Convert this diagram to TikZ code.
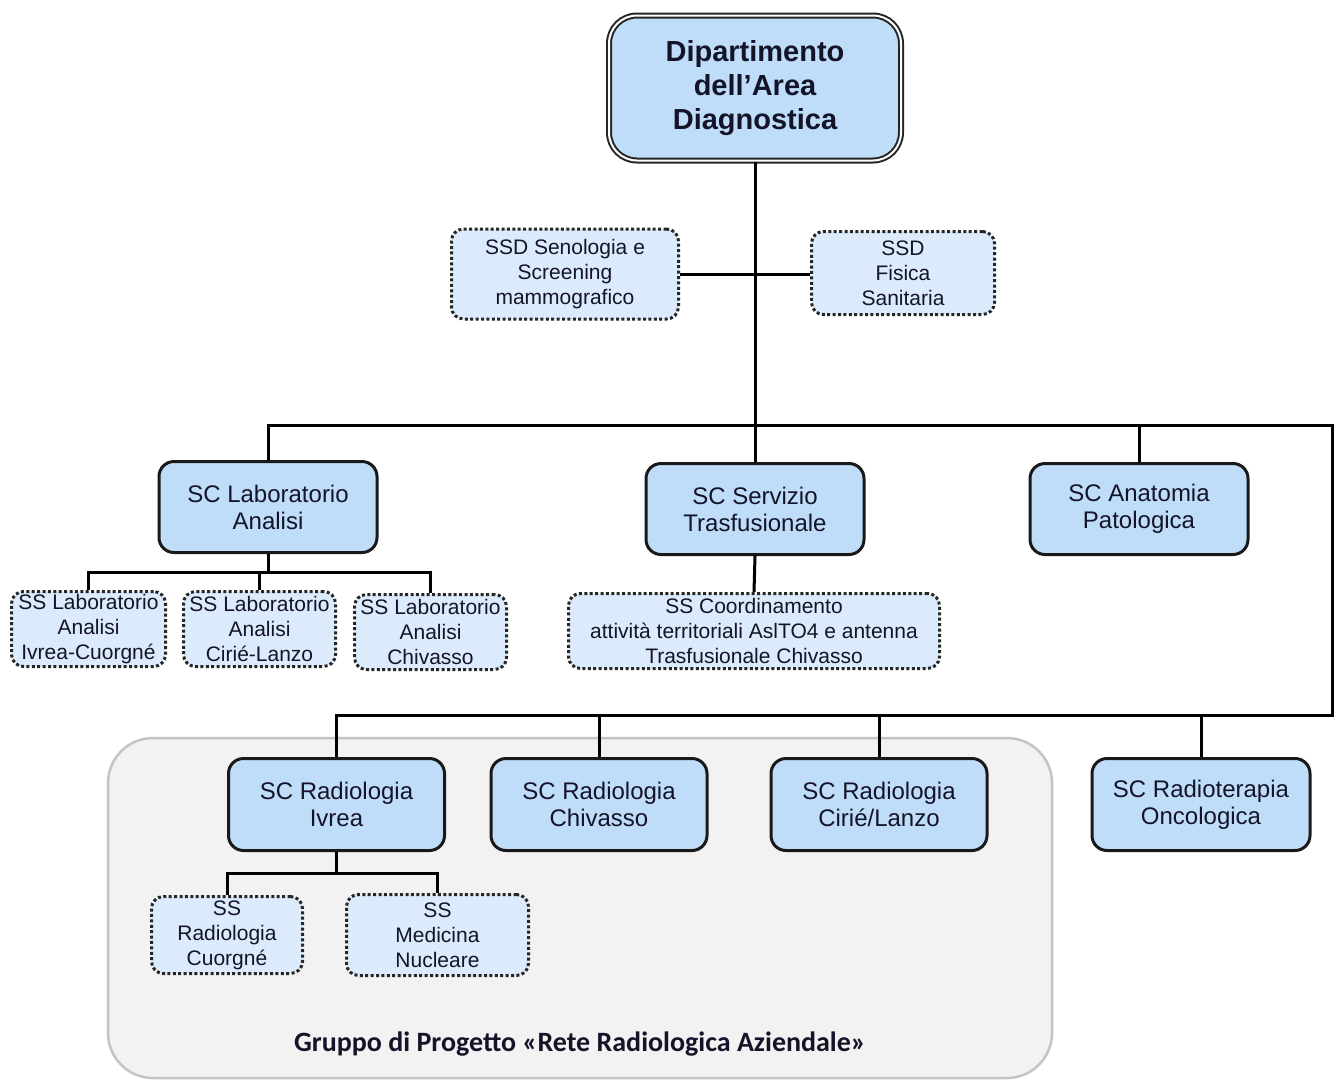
\documentclass[tikz,border=0pt]{standalone}
\usepackage{fontspec}
\setmainfont{Liberation Sans}
\newfontfamily\lblfont{Carlito}
\definecolor{boxfill}{HTML}{BFDDF9}
\definecolor{subfill}{HTML}{DCEBFB}
\definecolor{grpfill}{HTML}{F2F2F2}
\definecolor{grpline}{HTML}{C4C4C4}
\definecolor{txt}{HTML}{141428}
\begin{document}
\begin{tikzpicture}[x=1pt,y=-1pt,
  topbox/.style={draw=black!85, double=white, line width=2pt, double distance=2pt,
    fill=boxfill, rounded corners=28pt, inner sep=0pt, align=center,
    text=txt, font=\fontsize{29}{34}\selectfont\bfseries,
    minimum width=292pt, minimum height=145pt},
  scbox/.style={draw=black!90, line width=3pt, fill=boxfill, rounded corners=15pt,
    inner sep=0pt, align=center, text=txt, font=\fontsize{24}{27}\selectfont,
    minimum width=218pt, minimum height=91pt},
  ssbox/.style={draw=black!85, line width=3pt, dash pattern=on 3pt off 2.4pt,
    fill=subfill, rounded corners=12pt, inner sep=0pt, align=center, text=txt,
    font=\fontsize{21}{25}\selectfont, minimum height=75pt},
  link/.style={draw=black, line width=3pt},
  grp/.style={draw=grpline, line width=2.5pt, fill=grpfill, rounded corners=45pt}
]
\useasboundingbox (0,0) rectangle (1339,1080);
\fill[white] (0,0) rectangle (1339,1080);

% group area
\draw[grp] (108,738) rectangle (1052,1078);
\node[font=\lblfont\fontsize{28}{32}\selectfont\bfseries, text=txt] (grplbl) at (580,1044)
  {Gruppo di Progetto «Rete Radiologica Aziendale»};

% nodes
\node[topbox] (dip) at (755,88) {Dipartimento\\dell’Area\\Diagnostica};
\node[ssbox, minimum width=227pt, minimum height=90pt] (sen) at (565,274) {SSD Senologia e\\Screening\\mammografico};
\node[ssbox, minimum width=183pt, minimum height=83pt] (fis) at (903,273) {SSD\\Fisica\\Sanitaria};

\node[scbox] (lab) at (268,507) {SC Laboratorio\\Analisi};
\node[scbox] (trasf) at (755,509) {SC Servizio\\Trasfusionale};
\node[scbox] (anat) at (1139,509) {SC Anatomia\\Patologica};

\node[ssbox, minimum width=154pt] (l1) at (88.5,629) {SS Laboratorio\\Analisi\\Ivrea-Cuorgné};
\node[ssbox, minimum width=152pt] (l2) at (259.5,629) {SS Laboratorio\\Analisi\\Cirié-Lanzo};
\node[ssbox, minimum width=152pt] (l3) at (430.5,632) {SS Laboratorio\\Analisi\\Chivasso};
\node[ssbox, minimum width=371pt] (coord) at (754,631) {SS Coordinamento\\attività territoriali AslTO4 e antenna\\Trasfusionale Chivasso};

\node[scbox, minimum width=216pt, minimum height=92pt] (ivrea) at (336.5,804.5) {SC Radiologia\\Ivrea};
\node[scbox, minimum width=216pt, minimum height=92pt] (chiv) at (599,804.5) {SC Radiologia\\Chivasso};
\node[scbox, minimum width=216pt, minimum height=92pt] (cirie) at (879,804.5) {SC Radiologia\\Cirié/Lanzo};
\node[scbox, minimum width=218pt, minimum height=92pt] (radiot) at (1201,804.5) {SC Radioterapia\\Oncologica};

\node[ssbox, minimum width=151pt, minimum height=77pt] (cuo) at (227,935) {SS\\Radiologia\\Cuorgné};
\node[ssbox, minimum width=182pt, minimum height=81pt] (med) at (437.5,935) {SS\\Medicina\\Nucleare};

% junction coordinates
\coordinate (bartop) at (0,425);
\coordinate (barbot) at (0,715);
\coordinate (right) at (1332,0);
\coordinate (labj) at (0,572);
\coordinate (ivj) at (0,873);

% connectors
\draw[link] (dip.south) -- (trasf.north);
\draw[link] (sen.east) -- (sen.east -| fis.west);
\draw[link] (lab.north) -- (lab.north |- bartop) -- (right |- bartop) -- (right |- barbot) -- (ivrea.north |- barbot) -- (ivrea.north);
\draw[link] (anat.north) -- (anat.north |- bartop);
\draw[link] (chiv.north) -- (chiv.north |- barbot);
\draw[link] (cirie.north) -- (cirie.north |- barbot);
\draw[link] (radiot.north) -- (radiot.north |- barbot);

\draw[link] (lab.south) -- (lab.south |- labj);
\draw[link] (l1.north) -- (l1.north |- labj) -- (l3.north |- labj) -- (l3.north);
\draw[link] (l2.north) -- (l2.north |- labj);
\draw[link] (trasf.south) -- (coord.north);

\draw[link] (ivrea.south) -- (ivrea.south |- ivj);
\draw[link] (cuo.north) -- (cuo.north |- ivj) -- (med.north |- ivj) -- (med.north);
\end{tikzpicture}
\end{document}
